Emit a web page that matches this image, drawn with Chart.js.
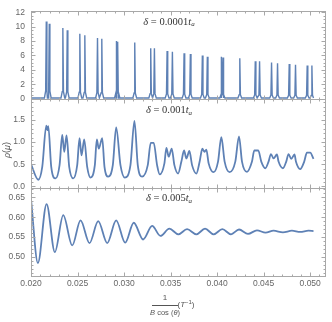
<!DOCTYPE html>
<html>
<head>
<meta charset="utf-8">
<script src="https://cdn.jsdelivr.net/npm/chart.js@4.4.1/dist/chart.umd.min.js"></script>
<style>
  html, body { margin: 0; padding: 0; background: #fff; }
  #chart { display: block; }
</style>
</head>
<body>
<canvas id="chart" width="332" height="322"></canvas>
<script>
// Ticks
const xTicks = [0.020, 0.025, 0.030, 0.035, 0.040, 0.045, 0.050];
const topTicks = [0, 2, 4, 6, 8, 10, 12];
const midTicks = [0.0, 0.5, 1.0, 1.5];
const lowTicks = [0.50, 0.55, 0.60, 0.65];
const panelDeltas = ["0.0001", "0.001", "0.005"];

// delta = 0.0001 t_a : narrow peaks (centre, height)
const peakX = [0.021642, 0.021964, 0.023423, 0.023895, 0.025247, 0.025784, 0.027146, 0.027608,
  0.029185, 0.029346, 0.031148, 0.032865, 0.033262, 0.034625, 0.035194, 0.036449, 0.037125,
  0.038413, 0.038949, 0.040484, 0.040634, 0.042437, 0.044100, 0.044561, 0.045849, 0.046493,
  0.047748, 0.048424, 0.049679, 0.050184];
const peakH = [10.7, 10.4, 9.8, 9.5, 9.0, 8.8, 8.4, 8.3,
  8.0, 7.9, 7.8, 7.0, 7.0, 6.6, 6.5, 6.3, 6.2,
  6.0, 5.8, 5.8, 5.7, 5.6, 5.2, 5.2, 5.0, 4.9,
  4.8, 4.7, 4.6, 4.6];
const peakBase = 0.1;
const peakHalfWidth = 0.0002;
const topEnd = 0.05036;

// delta = 0.001 t_a
const midX = [0.02000, 0.020783, 0.021209, 0.021642, 0.021749, 0.021856, 0.022175, 0.022640,
  0.023069, 0.023359, 0.023573, 0.023820, 0.024106, 0.024539, 0.024965, 0.025215, 0.025429,
  0.025719, 0.026038, 0.026395, 0.026860, 0.027071, 0.027286, 0.027650, 0.027897, 0.028294,
  0.028791, 0.029153, 0.029614, 0.030075, 0.030687, 0.031116, 0.031474, 0.031942, 0.032547,
  0.032865, 0.033187, 0.033549, 0.033831, 0.034335, 0.034550, 0.034797, 0.035119, 0.035408,
  0.035806, 0.036160, 0.036449, 0.036696, 0.037018, 0.037308, 0.037769, 0.038123, 0.038413,
  0.038628, 0.038842, 0.039089, 0.039626, 0.040098, 0.040452, 0.040806, 0.041343, 0.041954,
  0.042352, 0.042673, 0.043210, 0.043746, 0.043993, 0.044423, 0.044744, 0.045175, 0.045527,
  0.045786, 0.046065, 0.046430, 0.046600, 0.047074, 0.047426, 0.047675, 0.047965, 0.048319,
  0.048467, 0.048931, 0.049358, 0.049650, 0.050004, 0.050358];
const midY = [0.50, 0.15, 0.44, 1.37, 1.27, 1.36, 0.44, 0.18,
  0.48, 1.16, 0.78, 1.15, 0.44, 0.18, 0.48, 1.09, 0.70,
  1.06, 0.44, 0.20, 0.48, 1.06, 0.85, 1.09, 0.44, 0.22,
  0.48, 1.33, 0.48, 0.20, 0.48, 1.48, 0.48, 0.22, 0.48,
  0.98, 0.98, 0.48, 0.27, 0.52, 0.87, 0.67, 0.85, 0.48,
  0.29, 0.56, 0.81, 0.63, 0.80, 0.48, 0.29, 0.56, 0.85,
  0.78, 0.83, 0.52, 0.32, 0.56, 1.11, 0.56, 0.32, 0.56,
  1.13, 0.56, 0.33, 0.56, 0.81, 0.81, 0.56, 0.41, 0.56,
  0.73, 0.63, 0.72, 0.56, 0.41, 0.56, 0.73, 0.62, 0.72,
  0.56, 0.39, 0.56, 0.76, 0.76, 0.62];

// delta = 0.005 t_a
const lowX = [0.02000, 0.020740, 0.021674, 0.022564, 0.023466, 0.024431, 0.025322, 0.026288, 0.027221,
  0.028187, 0.029153, 0.030119, 0.031042, 0.032050, 0.033016, 0.033906, 0.034872, 0.035838,
  0.036771, 0.037769, 0.038703, 0.039626, 0.040559, 0.041492, 0.042352, 0.043317, 0.044283,
  0.045206, 0.046065, 0.047074, 0.048039, 0.048931, 0.049822, 0.050358];
const lowY = [0.645, 0.485, 0.633, 0.512, 0.605, 0.529, 0.592, 0.535, 0.590,
  0.535, 0.592, 0.536, 0.586, 0.544, 0.578, 0.553, 0.571, 0.557,
  0.570, 0.557, 0.571, 0.557, 0.570, 0.557, 0.569, 0.558, 0.567,
  0.561, 0.566, 0.562, 0.566, 0.563, 0.566, 0.565];

const LINE = "#5E81B5";
const FRAME = "#a8a8a8";
const TICKTXT = "#666";

// build spike profile for the top panel
const topPts = [{ x: xTicks[0], y: peakBase }];
peakX.forEach((px, i) => {
  topPts.push({ x: px - peakHalfWidth, y: peakBase });
  topPts.push({ x: px - peakHalfWidth / 3, y: peakH[i] * 0.1 });
  topPts.push({ x: px, y: peakH[i] });
  topPts.push({ x: px + peakHalfWidth / 3, y: peakH[i] * 0.1 });
  topPts.push({ x: px + peakHalfWidth, y: peakBase });
});
topPts.push({ x: topEnd, y: peakBase });
topPts.sort((a, b) => a.x - b.x);

const midPts = midX.map((x, i) => ({ x, y: midY[i] }));
const lowPts = lowX.map((x, i) => ({ x, y: lowY[i] }));

function yAxis(min, max, ticks, fmt) {
  return {
    type: "linear", position: "left", stack: "panels", stackWeight: 1,
    min, max,
    afterBuildTicks: s => { s.ticks = ticks.map(v => ({ value: v })); },
    afterFit: s => { s.width = 31; },
    grid: { display: false, drawTicks: false },
    border: { display: false },
    ticks: {
      padding: 6, color: TICKTXT, autoSkip: false,
      font: { family: "'Liberation Sans', Arial, sans-serif", size: 8.5 },
      callback: v => fmt(v)
    }
  };
}

// draw text made of several runs (italic / roman / subscripts)
function drawRuns(ctx, runs, cx, y) {
  let w = 0;
  runs.forEach(r => { ctx.font = r.f; r.w = ctx.measureText(r.t).width; w += r.w; });
  let x = cx - w / 2;
  runs.forEach(r => {
    ctx.font = r.f;
    ctx.fillText(r.t, x, y + (r.dy || 0));
    x += r.w;
  });
}

const framePlugin = {
  id: "frames",
  afterDraw(chart) {
    const ctx = chart.ctx;
    const area = chart.chartArea;
    const xs = chart.scales.x;
    const panels = [chart.scales.yTop, chart.scales.yMid, chart.scales.yLow];
    const minorSteps = [0.5, 0.1, 0.01];
    const majors = [topTicks, midTicks, lowTicks];
    ctx.save();
    ctx.lineWidth = 1;

    panels.forEach((s, p) => {
      const t = Math.round(s.top) + 0.5, b = Math.round(s.bottom) + 0.5;
      const l = Math.round(area.left) + 0.5, r = Math.round(area.right) - 0.5;
      ctx.strokeStyle = FRAME;
      ctx.strokeRect(l, t, r - l, b - t);
      ctx.beginPath();
      // x ticks on top and bottom edges of each panel
      for (let v = 0.020; v <= xs.max + 1e-9; v += 0.001) {
        const major = Math.abs(v / 0.005 - Math.round(v / 0.005)) < 1e-6;
        const len = major ? 4 : 2;
        const px = Math.round(xs.getPixelForValue(v)) + 0.5;
        ctx.moveTo(px, b); ctx.lineTo(px, b - len);
        ctx.moveTo(px, t); ctx.lineTo(px, t + len);
      }
      // y ticks on left and right edges
      const step = minorSteps[p];
      const mj = majors[p];
      const start = Math.ceil(s.min / step) * step;
      for (let v = start; v <= s.max + 1e-9; v += step) {
        const major = mj.some(m => Math.abs(m - v) < step / 10);
        const len = major ? 4 : 2;
        const py = Math.round(s.getPixelForValue(v)) + 0.5;
        ctx.moveTo(l, py); ctx.lineTo(l + len, py);
        ctx.moveTo(r, py); ctx.lineTo(r - len, py);
      }
      ctx.stroke();

      // panel caption
      ctx.fillStyle = "#333";
      ctx.textBaseline = "middle";
      ctx.textAlign = "left";
      const serif = "'Liberation Serif', 'DejaVu Serif', serif";
      drawRuns(ctx, [
        { t: "\u03b4", f: "italic 10.5px " + serif },
        { t: " = " + panelDeltas[p], f: "10.5px " + serif },
        { t: "t", f: "italic 10.5px " + serif },
        { t: "a", f: "italic 7px " + serif, dy: 2.5 }
      ], 169, s.top + 11);
    });

    // y label
    const sans = "'Liberation Sans', Arial, sans-serif";
    ctx.fillStyle = "#555";
    ctx.save();
    ctx.translate(7, 150);
    ctx.rotate(-Math.PI / 2);
    ctx.textBaseline = "middle";
    drawRuns(ctx, [
      { t: "\u03c1", f: "italic 9px " + sans },
      { t: "(", f: "9px " + sans },
      { t: "\u03bc", f: "italic 9px " + sans },
      { t: ")", f: "9px " + sans }
    ], 0, 0);
    ctx.restore();

    // x label: 1 / (B cos(theta)) (T^-1)
    ctx.textBaseline = "middle";
    ctx.textAlign = "left";
    drawRuns(ctx, [{ t: "1", f: "8px " + sans }], 165, 298);
    ctx.beginPath();
    ctx.strokeStyle = "#555";
    ctx.moveTo(152, 305.5); ctx.lineTo(178, 305.5);
    ctx.stroke();
    drawRuns(ctx, [
      { t: "B", f: "italic 7.5px " + sans },
      { t: " cos (", f: "7.5px " + sans },
      { t: "\u03b8", f: "italic 7.5px " + sans },
      { t: ")", f: "7.5px " + sans }
    ], 165, 313);
    drawRuns(ctx, [
      { t: "(", f: "8px " + sans },
      { t: "T", f: "italic 8px " + sans },
      { t: "\u22121", f: "6px " + sans, dy: -3 },
      { t: ")", f: "8px " + sans }
    ], 186, 305);
    ctx.restore();
  }
};

new Chart(document.getElementById("chart"), {
  type: "line",
  data: {
    datasets: [
      { data: topPts, yAxisID: "yTop", borderColor: LINE, borderWidth: 1.4, pointRadius: 0, tension: 0 },
      { data: midPts, yAxisID: "yMid", borderColor: LINE, borderWidth: 1.8, pointRadius: 0, cubicInterpolationMode: "monotone" },
      { data: lowPts, yAxisID: "yLow", borderColor: LINE, borderWidth: 1.8, pointRadius: 0, cubicInterpolationMode: "monotone" }
    ]
  },
  options: {
    responsive: false,
    animation: false,
    devicePixelRatio: 1,
    layout: { padding: { top: 7, right: 6, left: 0, bottom: 0 } },
    plugins: { legend: { display: false }, tooltip: { enabled: false } },
    scales: {
      x: {
        type: "linear", position: "bottom", min: 0.020, max: 0.0517,
        afterBuildTicks: s => { s.ticks = xTicks.map(v => ({ value: v })); },
        afterFit: s => { s.height = 46; },
        grid: { display: false, drawTicks: false },
        border: { display: false },
        ticks: {
          padding: 3, color: TICKTXT, maxRotation: 0,
          font: { family: "'Liberation Sans', Arial, sans-serif", size: 8.5 },
          callback: v => v.toFixed(3)
        }
      },
      // stacked panels: first listed is drawn lowest
      yLow: yAxis(0.4523, 0.674, lowTicks, v => v.toFixed(2)),
      yMid: yAxis(-0.029, 1.962, midTicks, v => v.toFixed(1)),
      yTop: yAxis(-0.1, 12.15, topTicks, v => String(v))
    }
  },
  plugins: [framePlugin]
});
</script>
</body>
</html>
